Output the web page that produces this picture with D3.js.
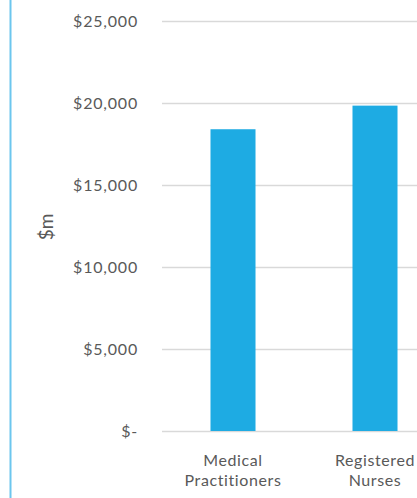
<!DOCTYPE html>
<html>
<head>
<meta charset="utf-8">
<script src="https://cdn.jsdelivr.net/npm/d3@7"></script>
<style>
  html, body { margin: 0; padding: 0; background: #fff; }
  svg { display: block; }
  text { font-family: Lato, "Open Sans", sans-serif; fill: #595959; }
</style>
</head>
<body>
<svg id="chart" width="417" height="498"></svg>
<script>
// Workforce categories and spending ($m)
const categories = [["Medical", "Practitioners"], ["Registered", "Nurses"]];
const values = [18400, 19840];
const yTicks = [0, 5000, 10000, 15000, 20000, 25000];
const yTickLabels = ["$-", "$5,000", "$10,000", "$15,000", "$20,000", "$25,000"];

const svg = d3.select("#chart");
const W = 417, H = 498;

const plot = { left: 162, top: 21, bottom: 431 };
const step = 142;

const x = d3.scaleBand()
  .domain(categories.map((d, i) => i))
  .range([plot.left, plot.left + step * categories.length])
  .paddingInner(0.683)
  .paddingOuter(0.3415);

const y = d3.scaleLinear().domain([0, 25000]).range([plot.bottom, plot.top]);

// Outer frame line on the left
svg.append("line")
  .attr("x1", 10.5).attr("x2", 10.5)
  .attr("y1", 0).attr("y2", H)
  .attr("stroke", "#6cc6ee").attr("stroke-width", 2);

// Gridlines
svg.append("g")
  .selectAll("line")
  .data(yTicks)
  .join("line")
  .attr("x1", plot.left).attr("x2", W)
  .attr("y1", d => Math.round(y(d)) + 0.5)
  .attr("y2", d => Math.round(y(d)) + 0.5)
  .attr("stroke", "#d9d9d9").attr("stroke-width", 1.3);

// Y axis labels
const yAxis = d3.axisLeft(y)
  .tickValues(yTicks)
  .tickFormat((d, i) => yTickLabels[i])
  .tickSize(0)
  .tickPadding(0);
const gy = svg.append("g").attr("transform", "translate(138,0)").call(yAxis);
gy.select(".domain").remove();
gy.selectAll("text")
  .attr("font-family", "Lato, 'Open Sans', sans-serif")
  .attr("font-size", 16)
  .attr("letter-spacing", 0.8)
  .attr("fill", "#595959");

// Bars
svg.append("g")
  .selectAll("rect")
  .data(values)
  .join("rect")
  .attr("x", (d, i) => x(i))
  .attr("width", x.bandwidth())
  .attr("y", d => y(d))
  .attr("height", d => y(0) - y(d))
  .attr("fill", "#1eabe3");

// Category labels
const gx = svg.append("g");
categories.forEach((lines, i) => {
  const cx = x(i) + x.bandwidth() / 2;
  const t = gx.append("text")
    .attr("text-anchor", "middle")
    .attr("font-size", 16)
    .attr("letter-spacing", 0.6);
  lines.forEach((ln, j) => {
    t.append("tspan").attr("x", cx).attr("y", 466 + j * 20).text(ln);
  });
});

// Axis title
svg.append("text")
  .attr("transform", "translate(53,227) rotate(-90)")
  .attr("text-anchor", "middle")
  .attr("font-size", 19)
  .text("$m");
</script>
</body>
</html>
